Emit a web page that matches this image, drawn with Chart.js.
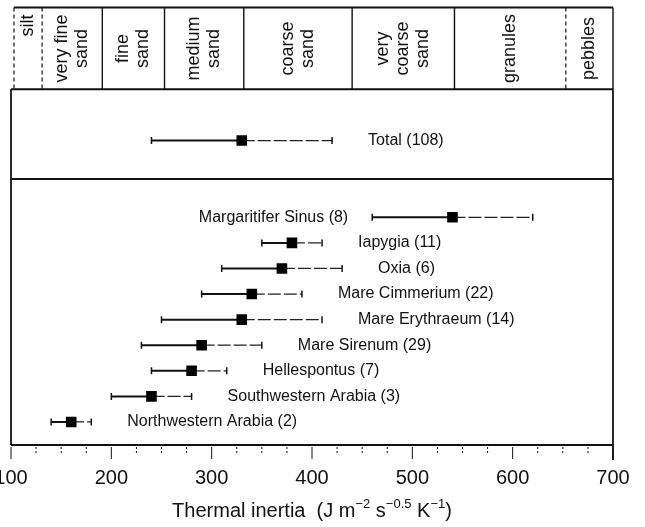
<!DOCTYPE html>
<html>
<head>
<meta charset="utf-8">
<script src="https://cdn.jsdelivr.net/npm/chart.js@4.4.1/dist/chart.umd.min.js"></script>
<style>
  html, body { margin: 0; padding: 0; background: #fff; }
  canvas { display: block; }
</style>
</head>
<body>
<canvas id="chart" width="645" height="527"></canvas>
<script>
// Thermal inertia per region: mean and range (Total first)
const regionNames = ['Total', 'Margaritifer Sinus', 'Iapygia', 'Oxia', 'Mare Cimmerium', 'Mare Erythraeum', 'Mare Sirenum', 'Hellespontus', 'Southwestern Arabia', 'Northwestern Arabia']
const regionCounts = [108, 8, 11, 6, 22, 14, 29, 7, 3, 2]
const inertiaMean = [330, 540, 380, 370, 340, 330, 290, 280, 240, 160]
const inertiaLow = [240, 460, 350, 310, 290, 250, 230, 240, 200, 140]
const inertiaHigh = [420, 620, 410, 430, 390, 410, 350, 315, 280, 180]

// Grain size classes across the top and their thermal inertia limits
const grainClasses = [['silt'], ['very fine', 'sand'], ['fine', 'sand'], ['medium', 'sand'], ['coarse', 'sand'], ['very', 'coarse', 'sand'], ['granules'], ['pebbles']]
const grainLimits = [103, 131, 191, 253, 332, 440, 542, 653, 700]

const xTickLabels = [100, 200, 300, 400, 500, 600, 700]

const FONT = "'Liberation Sans', Arial, Helvetica, sans-serif"
const INK = '#111'

// Total sits in its own panel, the regions stack below it
const rowOf = i => i === 0 ? 12 : regionNames.length - i
const PANEL_SPLIT = 10.5
const GRAIN_BASE = 14

const markers = {
  label: 'mean',
  data: inertiaMean.map((v, i) => ({ x: v, y: rowOf(i) })),
  pointStyle: 'rect',
  pointRadius: 7.5,
  backgroundColor: '#000',
  borderColor: '#000',
  borderWidth: 0,
  showLine: false,
}

const lowArms = inertiaLow.map((lo, i) => ({
  label: 'low',
  data: [{ x: lo, y: rowOf(i) }, { x: inertiaMean[i], y: rowOf(i) }],
  showLine: true,
  borderColor: INK,
  borderWidth: 2,
  pointStyle: 'line',
  pointRotation: 90,
  pointRadius: c => c.dataIndex === 0 ? 3.5 : 0,
  pointBorderColor: INK,
  pointBorderWidth: 1.5,
}))

const highArms = inertiaHigh.map((hi, i) => ({
  label: 'high',
  data: [{ x: inertiaMean[i], y: rowOf(i) }, { x: hi, y: rowOf(i) }],
  showLine: true,
  borderColor: '#222',
  borderWidth: 1.3,
  borderDash: [13, 3],
  pointStyle: 'line',
  pointRotation: 90,
  pointRadius: c => c.dataIndex === 1 ? 3.5 : 0,
  pointBorderColor: INK,
  pointBorderWidth: 1.5,
}))

function line(ctx, x1, y1, x2, y2, width, dash) {
  ctx.save()
  ctx.strokeStyle = INK
  ctx.lineWidth = width
  ctx.setLineDash(dash || [])
  ctx.beginPath()
  ctx.moveTo(x1, y1)
  ctx.lineTo(x2, y2)
  ctx.stroke()
  ctx.restore()
}

// Panels, grain size header, x ticks and axis title
const framePlugin = {
  id: 'frame',
  afterDraw(chart) {
    const { ctx, chartArea: { left, right, top, bottom }, scales: { x, y } } = chart
    const ySplit = y.getPixelForValue(PANEL_SPLIT)
    const yGrain = y.getPixelForValue(GRAIN_BASE)

    // lower panels
    line(ctx, left, yGrain, left, bottom, 1.8)
    line(ctx, right, yGrain, right, bottom + 15, 1.8)
    line(ctx, left, bottom, right, bottom, 2)
    line(ctx, left, ySplit, right, ySplit, 2)
    line(ctx, left, yGrain, right, yGrain, 2)

    // grain size header
    const gx = grainLimits.map(v => x.getPixelForValue(v))
    line(ctx, gx[0], top, gx[gx.length - 1], top, 2)
    const dashedEdges = [0, 1, 7]
    gx.forEach((px, i) => {
      const dashed = dashedEdges.includes(i)
      line(ctx, px, top, px, yGrain, dashed ? 1.2 : 1.4, dashed ? [4, 3] : null)
    })
    ctx.save()
    ctx.fillStyle = INK
    ctx.font = `18px ${FONT}`
    ctx.textBaseline = 'middle'
    grainClasses.forEach((lines, i) => {
      const cx = (gx[i] + gx[i + 1]) / 2
      ctx.save()
      if (i === 0) {
        ctx.translate(cx, top + 7)
        ctx.rotate(-Math.PI / 2)
        ctx.textAlign = 'right'
      } else {
        ctx.translate(cx, (top + yGrain) / 2)
        ctx.rotate(-Math.PI / 2)
        ctx.textAlign = 'center'
      }
      lines.forEach((t, k) => {
        ctx.fillText(t, 0, (k - (lines.length - 1) / 2) * 20)
      })
      ctx.restore()
    })
    ctx.restore()

    // x ticks: minor every 25, major every 100
    for (let v = 100; v <= 700; v += 25) {
      const px = x.getPixelForValue(v)
      const major = v % 100 === 0
      line(ctx, px, bottom + 2, px, bottom + (major ? 14 : 8), 1, major ? null : [2, 2])
    }
    ctx.save()
    ctx.fillStyle = INK
    ctx.font = `20px ${FONT}`
    ctx.textAlign = 'center'
    ctx.textBaseline = 'middle'
    xTickLabels.forEach(v => ctx.fillText(String(v), x.getPixelForValue(v), bottom + 33))
    ctx.restore()

    // axis title with superscripts
    const parts = [
      ['Thermal inertia  (J m', false], ['\u22122', true], [' s', false],
      ['\u22120.5', true], [' K', false], ['\u22121', true], [')', false],
    ]
    ctx.save()
    ctx.fillStyle = INK
    ctx.textBaseline = 'alphabetic'
    ctx.textAlign = 'left'
    const fontFor = sup => sup ? `13px ${FONT}` : `20px ${FONT}`
    let total = 0
    parts.forEach(([t, sup]) => { ctx.font = fontFor(sup); total += ctx.measureText(t).width })
    let cx = (left + right) / 2 - total / 2
    const base = bottom + 72
    parts.forEach(([t, sup]) => {
      ctx.font = fontFor(sup)
      ctx.fillText(t, cx, sup ? base - 9 : base)
      cx += ctx.measureText(t).width
    })
    ctx.restore()
  },
}

// Region names next to their bars
const labelPlugin = {
  id: 'regionLabels',
  afterDatasetsDraw(chart) {
    const { ctx, chartArea: { right }, scales: { x, y } } = chart
    ctx.save()
    ctx.fillStyle = INK
    ctx.font = `16px ${FONT}`
    ctx.textBaseline = 'middle'
    regionNames.forEach((name, i) => {
      const text = `${name} (${regionCounts[i]})`
      const py = y.getPixelForValue(rowOf(i))
      const w = ctx.measureText(text).width
      const rx = x.getPixelForValue(inertiaHigh[i]) + 36
      if (rx + w > right - 5) {
        ctx.textAlign = 'right'
        ctx.fillText(text, x.getPixelForValue(inertiaLow[i]) - 24, py)
      } else {
        ctx.textAlign = 'left'
        ctx.fillText(text, rx, py)
      }
    })
    ctx.restore()
  },
}

new Chart(document.getElementById('chart'), {
  type: 'scatter',
  data: { datasets: [markers, ...lowArms, ...highArms] },
  options: {
    responsive: false,
    animation: false,
    events: [],
    layout: { padding: { left: 11, right: 32, top: 5, bottom: 82 } },
    plugins: { legend: { display: false }, tooltip: { enabled: false } },
    scales: {
      x: { type: 'linear', min: 100, max: 700, display: false },
      y: { type: 'linear', min: 0.1, max: 17.2, display: false },
    },
  },
  plugins: [labelPlugin, framePlugin],
})
</script>
</body>
</html>
